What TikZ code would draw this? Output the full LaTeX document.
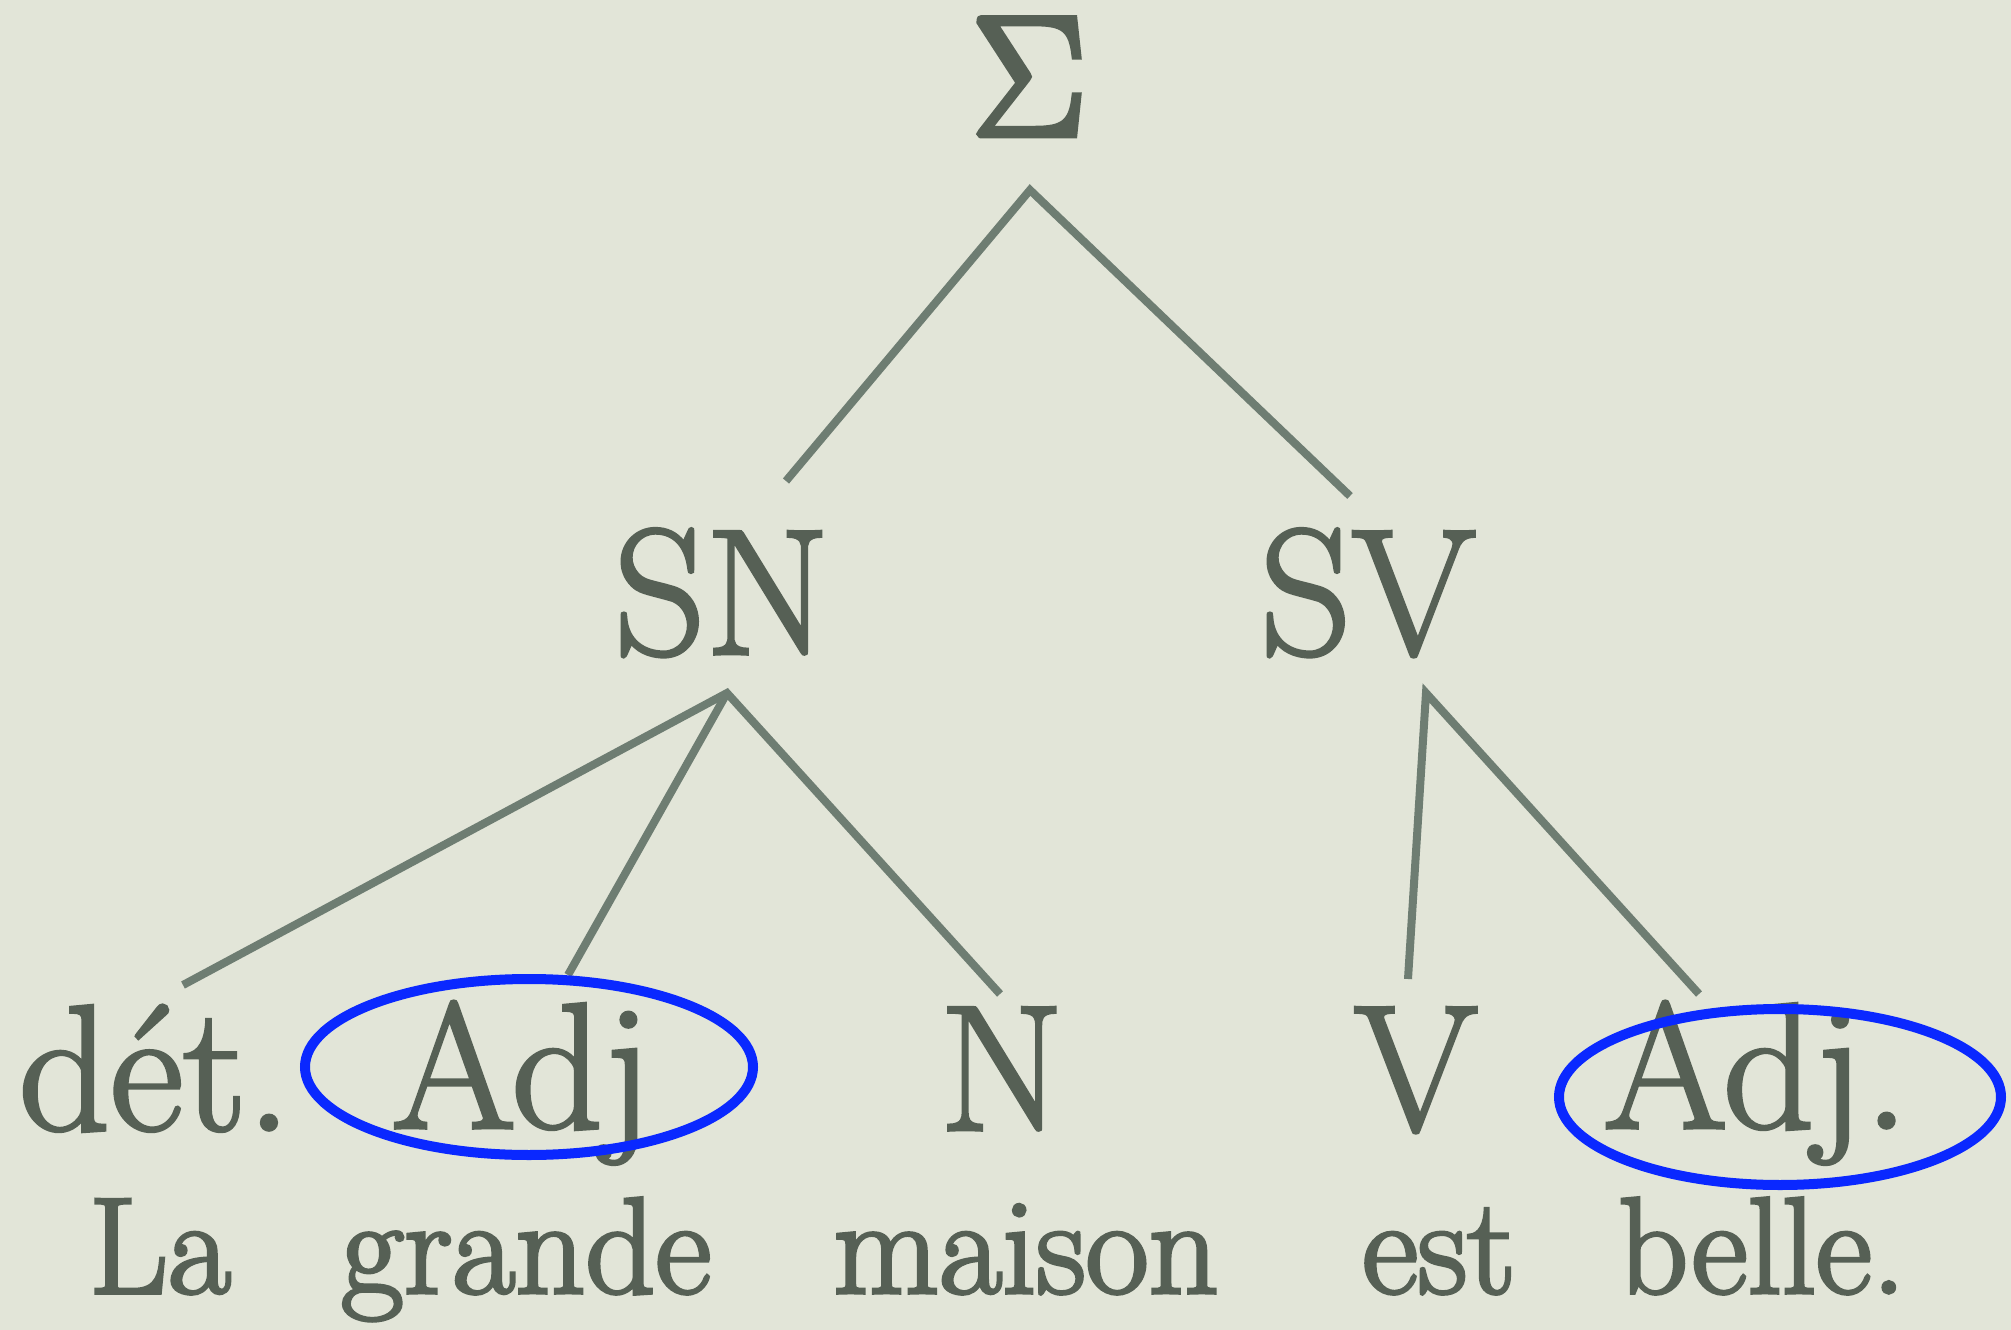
\documentclass[tikz,border=0pt]{standalone}
\definecolor{bgc}{HTML}{E2E5D8}
\definecolor{txc}{HTML}{566055}
\definecolor{lnc}{HTML}{6E7D72}
\definecolor{blc}{HTML}{0A28FF}
\newcommand\heavytext[1]{\special{pdf:literal direct 2 Tr 1 w}#1\special{pdf:literal direct 0 Tr}}
\begin{document}
\begin{tikzpicture}[x=0.01cm,y=-0.01cm,
  big/.style={anchor=base,inner sep=0pt,text=txc,font=\fontsize{51}{60}\selectfont},
  word/.style={anchor=base,inner sep=0pt,text=txc,font=\fontsize{39}{46}\selectfont},
  branch/.style={draw=lnc,line width=0.08cm},
  ring/.style={draw=blc,line width=0.1cm}]
\fill[bgc] (0,0) rectangle (2011,1330);
\useasboundingbox (0,0) rectangle (2011,1330);
% category nodes
\node[anchor=base,inner sep=0pt,text=txc] (sigma) at (1029,135) {\heavytext{\scalebox{1.95}{\fontsize{24.88}{30}\selectfont$\Sigma$}}};
\node[big] (sn) at (722,654) {\heavytext{SN}};
\node[big] (sv) at (1368,654) {\heavytext{SV}};
\node[big] (det) at (155,1130) {\heavytext{dét.}};
\node[big] (adj1) at (522,1128) {\heavytext{Adj}};
\node[big] (n) at (1002,1130) {\heavytext{N}};
\node[big] (v) at (1416,1130) {\heavytext{V}};
\node[big] (adj2) at (1756,1128) {\heavytext{Adj.}};
% words
\node[word] (la) at (160,1293) {\heavytext{La}};
\node[word] (grande) at (526,1293) {\heavytext{grande}};
\node[word] (maison) at (1026,1293) {\heavytext{maison}};
\node[word] (est) at (1439,1293) {\heavytext{est}};
\node[word] (belle) at (1762,1293) {\heavytext{belle.}};
% branch points
\coordinate (sigmaTop) at (1030,190);
\coordinate (snUp) at (786,481);
\coordinate (svUp) at (1350,496);
\coordinate (snTop) at (727,693);
\coordinate (detUp) at (183,985);
\coordinate (adjUp) at (568,975);
\coordinate (nUp) at (1000,994);
\coordinate (svTop) at (1426,693);
\coordinate (vUp) at (1408,979);
\coordinate (adjbUp) at (1699,994);
\draw[branch] (snUp) -- (sigmaTop) -- (svUp);
\draw[branch] (detUp) -- (snTop) -- (nUp);
\draw[branch] (snTop) -- (adjUp);
\draw[branch] (vUp) -- (svTop) -- (adjbUp);
% ellipses
\draw[ring] (529,1067) ellipse [x radius=224, y radius=88];
\draw[ring] (1780,1097) ellipse [x radius=221, y radius=88];
\end{tikzpicture}
\end{document}
